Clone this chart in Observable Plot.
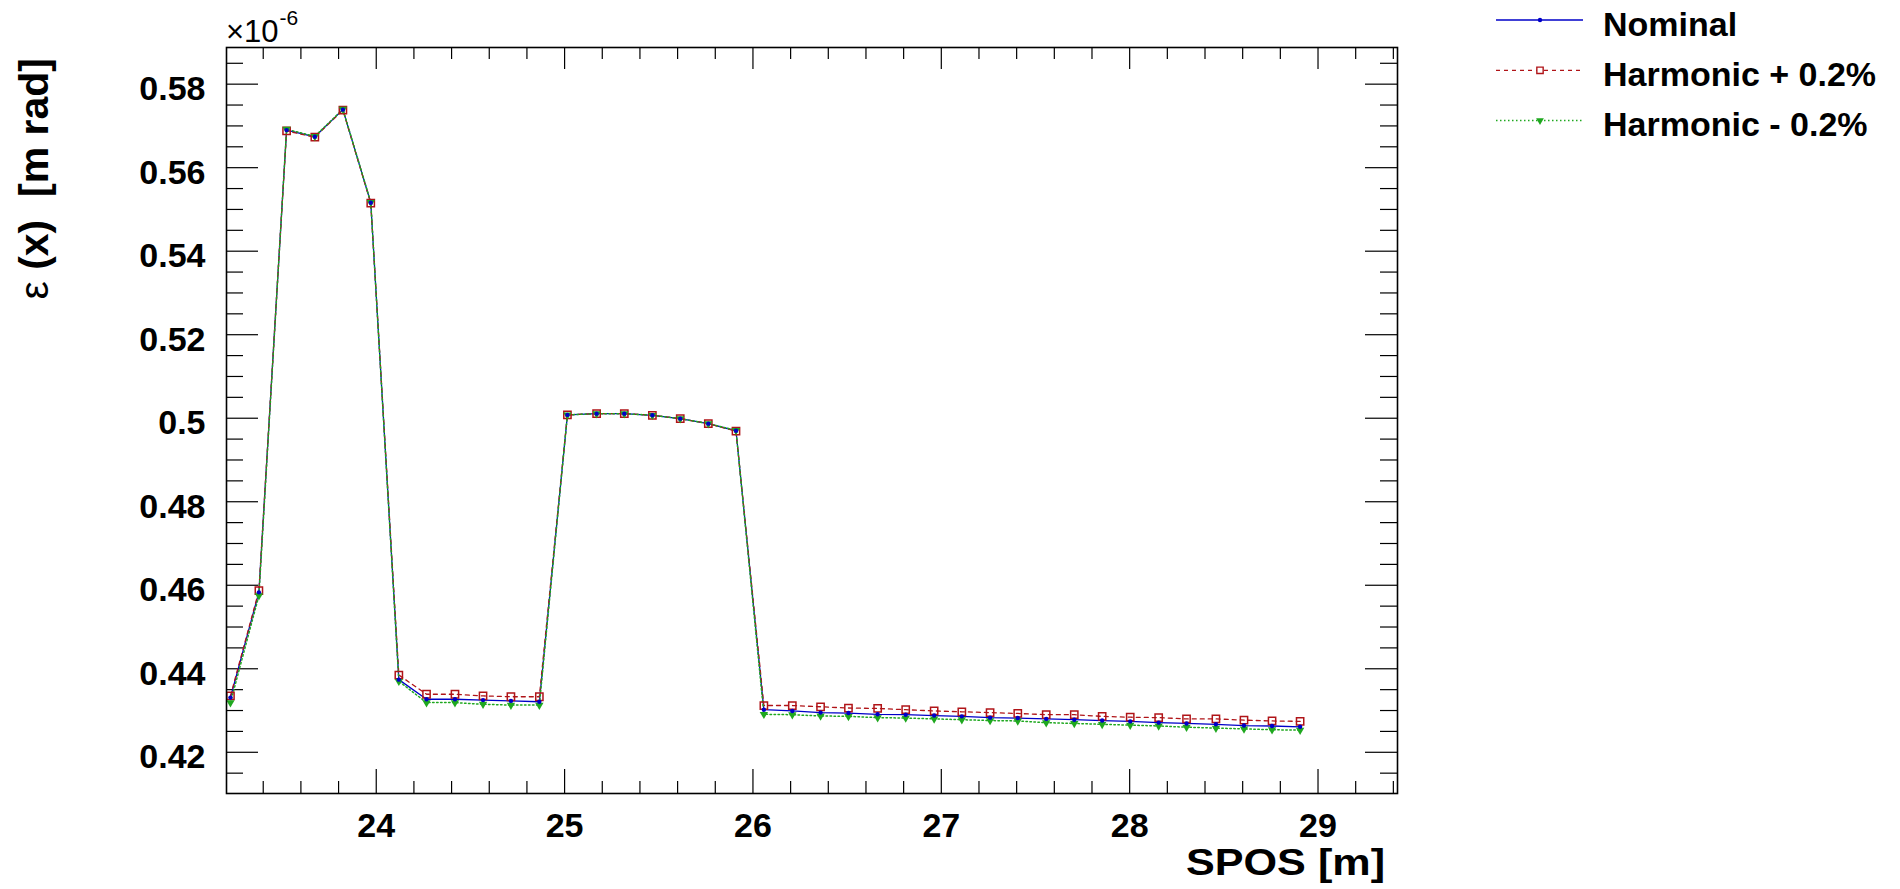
<!DOCTYPE html>
<html><head><meta charset="utf-8">
<script src="https://cdn.jsdelivr.net/npm/d3@7"></script>
<script src="https://cdn.jsdelivr.net/npm/@observablehq/plot@0.6"></script>
<style>
body{margin:0;background:#fff;}
#chart{position:relative;width:1900px;height:889px;}
</style>
</head><body><div id="chart"></div>
<script>
// ---- data (emittance in units of 1e-6 m rad) ----
const spos = [23.226, 23.377, 23.524, 23.674, 23.823, 23.971, 24.120, 24.267, 24.418, 24.567, 24.715, 24.866,
  25.015, 25.170, 25.317, 25.466, 25.614, 25.763, 25.910,
  26.058, 26.209, 26.359, 26.507, 26.662, 26.811, 26.962, 27.109, 27.259, 27.406,
  27.557, 27.706, 27.854, 28.003, 28.154, 28.302, 28.458, 28.607, 28.756, 28.905];
const nominal = [0.4331, 0.4583, 0.5690, 0.5674, 0.5739, 0.5516, 0.4374, 0.4327, 0.4327, 0.4325, 0.4323, 0.4321,
  0.5008, 0.5011, 0.5011, 0.5007, 0.4999, 0.4987, 0.4970,
  0.4302, 0.4299, 0.4295, 0.4294, 0.4291, 0.4290, 0.4288, 0.4286, 0.4283, 0.4282,
  0.4280, 0.4278, 0.4276, 0.4274, 0.4271, 0.4269, 0.4267, 0.4264, 0.4263, 0.4261];
const harmPlus = [0.4335, 0.4587, 0.5688, 0.5673, 0.5738, 0.5515, 0.4385, 0.4339, 0.4339, 0.4335, 0.4333, 0.4333,
  0.5008, 0.5011, 0.5011, 0.5007, 0.4999, 0.4987, 0.4969,
  0.4312, 0.4312, 0.4309, 0.4306, 0.4305, 0.4302, 0.4299, 0.4297, 0.4295, 0.4293,
  0.4290, 0.4290, 0.4286, 0.4284, 0.4283, 0.4280, 0.4280, 0.4277, 0.4275, 0.4274];
const harmMinus = [0.4319, 0.4575, 0.5692, 0.5675, 0.5740, 0.5517, 0.4370, 0.4319, 0.4319, 0.4315, 0.4313, 0.4313,
  0.5008, 0.5011, 0.5011, 0.5007, 0.4999, 0.4987, 0.4971,
  0.4291, 0.4290, 0.4287, 0.4286, 0.4283, 0.4282, 0.4280, 0.4278, 0.4276, 0.4275,
  0.4271, 0.4269, 0.4267, 0.4265, 0.4263, 0.4260, 0.4258, 0.4256, 0.4254, 0.4253];
const seriesNames = ["Nominal", "Harmonic + 0.2%", "Harmonic - 0.2%"];
const xTicks = [24, 25, 26, 27, 28, 29];
const xTickLabels = ["24", "25", "26", "27", "28", "29"];
const yTicks = [0.42, 0.44, 0.46, 0.48, 0.50, 0.52, 0.54, 0.56, 0.58];
const yTickLabels = ["0.42", "0.44", "0.46", "0.48", "0.5", "0.52", "0.54", "0.56", "0.58"];
const xTitle = "SPOS [m]";
const yTitleSymbol = "ε";
const yTitleRest = " (x)  [m rad]";
const exponentBase = "×10";
const exponentPower = "-6";

// ---- styling / layout ----
const W = 1900, H = 889;
const mL = 226, mR = 503, mT = 47, mB = 96;
const FW = W - mL - mR, FH = H - mT - mB;
const xDomain = [23.205, 29.422];
const yDomain = [0.41013, 0.58878];
const colors = ["#0000c8", "#b01418", "#1fa81f"];
const font = "'Liberation Sans', Arial, Helvetica, sans-serif";

const xMinor = d3.range(23.4, 29.41, 0.2).map(v => +v.toFixed(1)).filter(v => !xTicks.includes(v));
const yMinor = d3.range(0.415, 0.5851, 0.005).map(v => +v.toFixed(3)).filter(v => !yTicks.some(t => Math.abs(t - v) < 1e-6));

const data = spos.map((s, i) => ({s, nominal: nominal[i], plus: harmPlus[i], minus: harmMinus[i]}));

const tickStyle = {stroke: "#000", strokeWidth: 1.2};
const plot = Plot.plot({
  width: W, height: H,
  marginLeft: mL, marginRight: mR, marginTop: mT, marginBottom: mB,
  style: {fontFamily: font, background: "#fff", color: "#000"},
  x: {domain: xDomain},
  y: {domain: yDomain},
  marks: [
    // ticks (inside, on all four sides)
    Plot.tickX(xTicks, {x: d => d, insetTop: FH - 24, ...tickStyle}),
    Plot.tickX(xMinor, {x: d => d, insetTop: FH - 12, ...tickStyle}),
    Plot.tickX(xTicks, {x: d => d, insetBottom: FH - 22, ...tickStyle}),
    Plot.tickX(xMinor, {x: d => d, insetBottom: FH - 12, ...tickStyle}),
    Plot.tickY(yTicks, {y: d => d, insetRight: FW - 32, ...tickStyle}),
    Plot.tickY(yMinor, {y: d => d, insetRight: FW - 17, ...tickStyle}),
    Plot.tickY(yTicks, {y: d => d, insetLeft: FW - 32, ...tickStyle}),
    Plot.tickY(yMinor, {y: d => d, insetLeft: FW - 17, ...tickStyle}),
    // tick labels
    Plot.axisX(xTicks, {tickSize: 0, tickPadding: 19, tickFormat: d => xTickLabels[xTicks.indexOf(d)],
      fontSize: 34, fontWeight: "bold", label: null, fill: "#000"}),
    Plot.axisY(yTicks, {tickSize: 0, tickPadding: 21, tickFormat: d => yTickLabels[yTicks.indexOf(d)],
      fontSize: 34, fontWeight: "bold", label: null, fill: "#000", dy: 5}),
    // lines
    Plot.line(data, {x: "s", y: "nominal", stroke: colors[0], strokeWidth: 1.3}),
    Plot.line(data, {x: "s", y: "plus", stroke: colors[1], strokeWidth: 1.3, strokeDasharray: "4,4"}),
    Plot.line(data, {x: "s", y: "minus", stroke: colors[2], strokeWidth: 1.5, strokeDasharray: "1.5,2.5"}),
    // markers
    Plot.dot(data, {x: "s", y: "plus", symbol: "square", r: 4.1, stroke: colors[1], strokeWidth: 1.5, fill: "none"}),
    Plot.dot(data, {x: "s", y: "minus", symbol: "triangle", rotate: 180, r: 3.1, fill: colors[2], stroke: "none"}),
    Plot.dot(data, {x: "s", y: "nominal", r: 2.2, fill: colors[0], stroke: "none"}),
    Plot.frame({stroke: "#000", strokeWidth: 1.6})
  ]
});
document.getElementById("chart").appendChild(plot);

const svg = d3.select(plot);
// exponent label
const ex = svg.append("text").attr("x", 226).attr("y", 42).attr("text-anchor", "start")
  .style("font-family", font).style("font-size", "31px").attr("fill", "#000");
ex.append("tspan").text(exponentBase);
ex.append("tspan").attr("dy", -17).attr("dx", 1).style("font-size", "21px").text(exponentPower);

// x title
svg.append("text").attr("x", 1186).attr("y", 875).attr("text-anchor", "start")
  .attr("textLength", 199).attr("lengthAdjust", "spacingAndGlyphs")
  .style("font-family", font).style("font-size", "37px").style("font-weight", "bold")
  .attr("fill", "#000").text(xTitle);

// y title
const yt = svg.append("text").attr("transform", "translate(48,58) rotate(-90)")
  .attr("text-anchor", "end").style("font-family", font).style("font-size", "41px")
  .attr("fill", "#000");
yt.append("tspan").style("font-weight", "normal").text(yTitleSymbol);
yt.append("tspan").style("font-weight", "bold").text(yTitleRest.replace(/ /g, "\u00a0"));

// legend
const lg = svg.append("g");
const symFns = [
  g => g.append("circle").attr("r", 2.2).attr("fill", colors[0]),
  g => g.append("path").attr("d", d3.symbol(d3.symbolSquare, 40)()).attr("fill", "#fff").attr("stroke", colors[1]).attr("stroke-width", 1.4),
  g => g.append("path").attr("d", d3.symbol(d3.symbolTriangle, 26)()).attr("transform", "rotate(180)").attr("fill", colors[2])
];
const dashes = [null, "4,4", "1.5,2.5"];
seriesNames.forEach((name, i) => {
  const yl = 20 + 50.3 * i;
  lg.append("line").attr("x1", 1496).attr("x2", 1583).attr("y1", yl).attr("y2", yl)
    .attr("stroke", colors[i]).attr("stroke-width", i === 2 ? 1.5 : 1.3)
    .attr("stroke-dasharray", dashes[i]);
  symFns[i](lg.append("g").attr("transform", `translate(1540,${yl})`));
  lg.append("text").attr("x", 1603).attr("y", 35.8 + 50.2 * i).attr("text-anchor", "start")
    .style("font-family", font).style("font-size", "34px").style("font-weight", "bold")
    .attr("fill", "#000").text(name);
});
</script>
</body></html>
